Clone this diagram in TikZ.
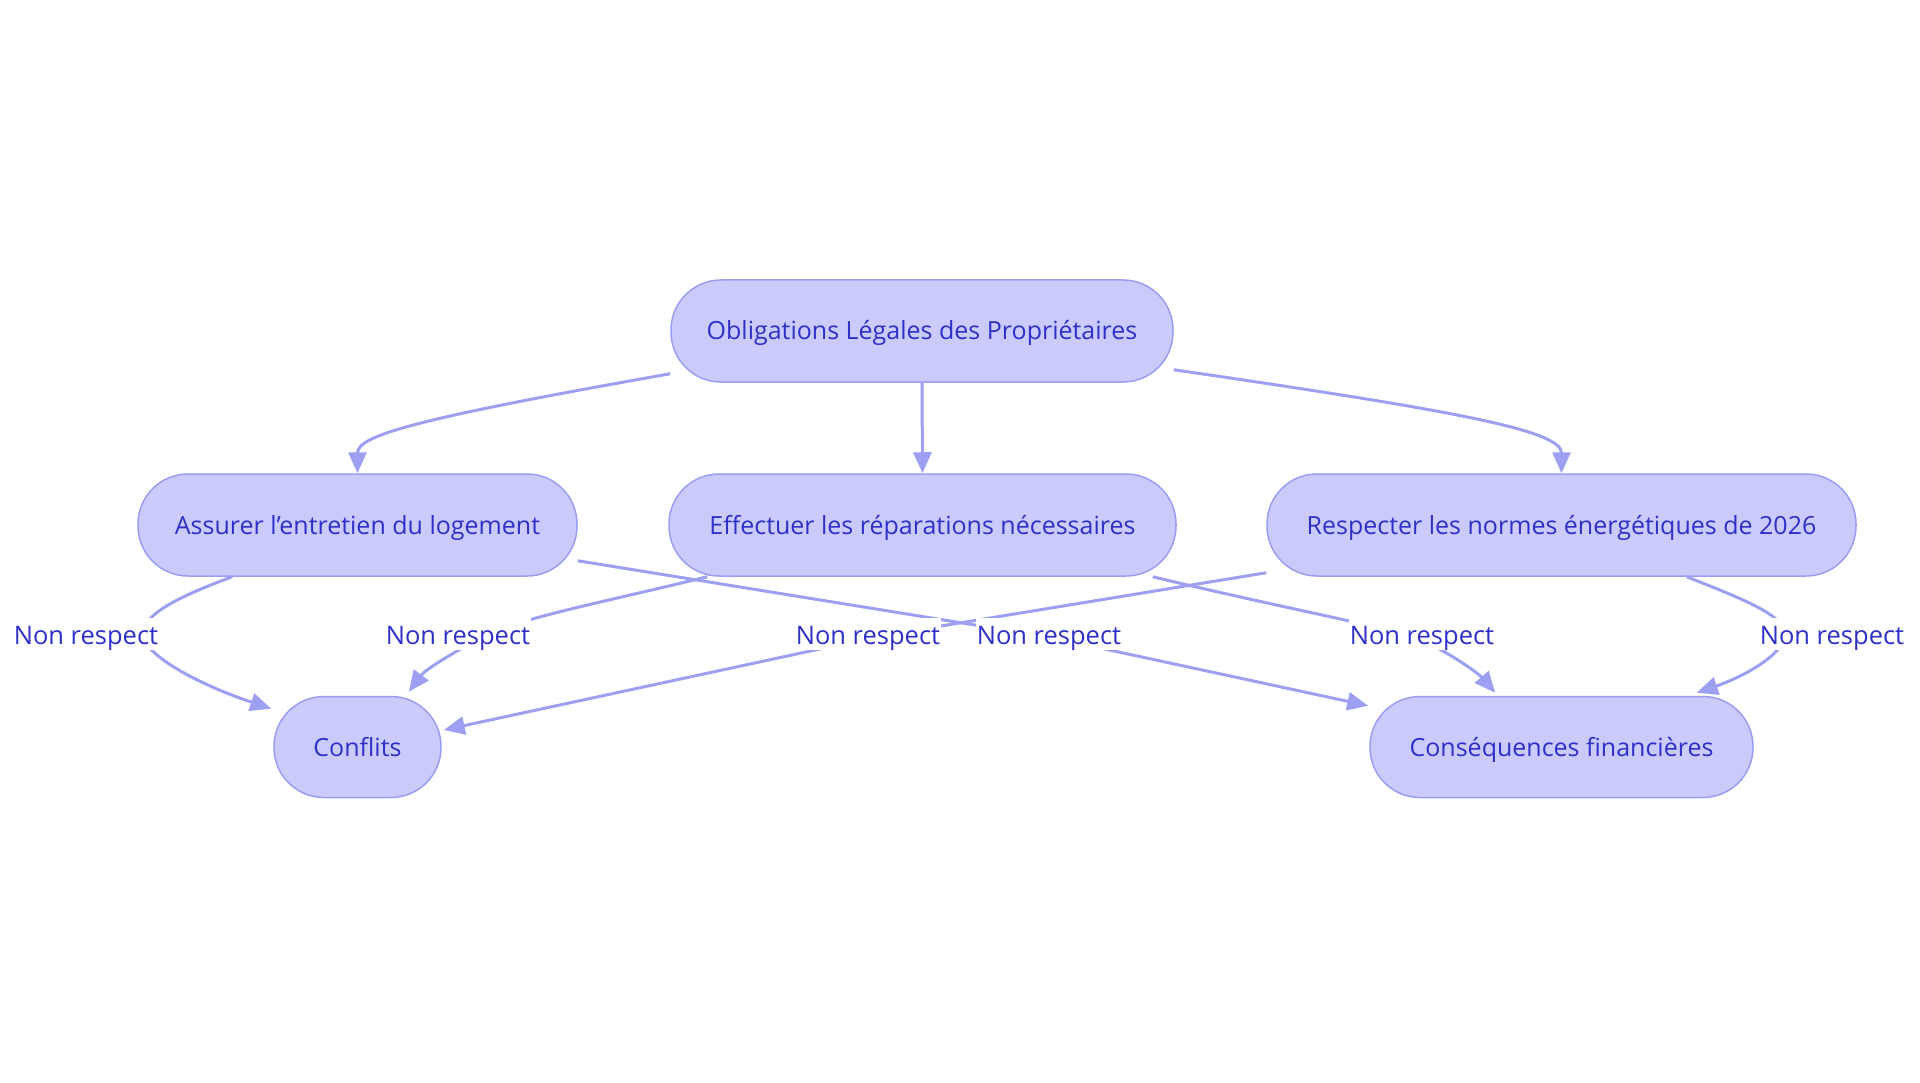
\documentclass[tikz,border=0pt]{standalone}
\usepackage{fontspec}
\setmainfont{Open Sans}
\usetikzlibrary{arrows.meta,calc}
\definecolor{nodefill}{HTML}{CACBFB}
\definecolor{nodeline}{HTML}{9B9EF0}
\definecolor{txt}{HTML}{2E30C8}
\definecolor{edgecol}{HTML}{9DA0F1}
\begin{document}
\begin{tikzpicture}[x=1pt,y=-1pt,
 box/.style={draw=nodeline,fill=nodefill,line width=1.5pt,rounded corners=50pt,minimum height=102pt,text=txt,font=\fontsize{25}{29}\selectfont,inner sep=0pt,text height=22pt,text depth=4pt},
 link/.style={draw=edgecol,line width=3pt,-{Triangle[length=21pt,width=18pt]}},
 lbl/.style={fill=white,text=txt,font=\fontsize{25.5}{29}\selectfont,inner xsep=1pt,inner ysep=2pt,text height=24pt,text depth=4pt}]
\useasboundingbox (0,0) rectangle (1920,1083);

\node[box,minimum width=502pt] (top) at (922,331) {Obligations Légales des Propriétaires};
\node[box,minimum width=439pt] (assurer) at (357.5,525) {Assurer l’entretien du logement};
\node[box,minimum width=507pt] (effectuer) at (922.5,525) {Effectuer les réparations nécessaires};
\node[box,minimum width=589pt] (respecter) at (1561.5,525) {Respecter les normes énergétiques de 2026};
\node[box,minimum width=167pt,minimum height=101pt] (conflits) at (357.5,747) {Conflits};
\node[box,minimum width=383pt,minimum height=101pt] (conseq) at (1561.5,747) {Conséquences financières};

% top level
\draw[link] ($(top.south west)+(0,-9)$) .. controls (420,418) and (357.5,435) .. (assurer.north);
\draw[link] (top.south) -- (effectuer.north);
\draw[link] ($(top.south east)+(0,-13)$) .. controls (1450,410) and (1561.5,430) .. (respecter.north);

% to Conflits
\draw[link] ($(assurer.south west)+(95,0)$) .. controls (175,598) and (143,615) .. (143,634)
  .. controls (143,655) and (200,685) .. ($(conflits.north west)+(-2,13)$);
\draw[link] ($(effectuer.south west)+(39,0)$) .. controls (600,603) and (520,618) .. (485,636)
  .. controls (450,654) and (425,670) .. ($(conflits.north east)+(-33,-4)$);
\draw[link] ($(respecter.south west)+(0,-4)$) -- (880,636) -- ($(conflits.east)+(2,-17)$);

% to Consequences
\draw[link] ($(assurer.south east)+(0,-16)$) -- (1049,637) -- ($(conseq.north west)+(-1,10)$);
\draw[link] ($(effectuer.south east)+(-24,0)$) .. controls (1300,612) and (1380,625) .. (1420,640)
  .. controls (1450,652) and (1480,675) .. ($(conseq.north west)+(126,-3)$);
\draw[link] ($(respecter.south east)+(-170,0)$) .. controls (1740,598) and (1785,615) .. (1785,634)
  .. controls (1785,655) and (1740,678) .. ($(conseq.north east)+(-57,-3)$);

% labels
\node[lbl] (l1) at (86,634) {Non respect};
\node[lbl] (l2) at (458,634) {Non respect};
\node[lbl] (l3) at (868,634) {Non respect};
\node[lbl] (l4) at (1049,634) {Non respect};
\node[lbl] (l5) at (1422,634) {Non respect};
\node[lbl] (l6) at (1832,634) {Non respect};
\end{tikzpicture}
\end{document}
